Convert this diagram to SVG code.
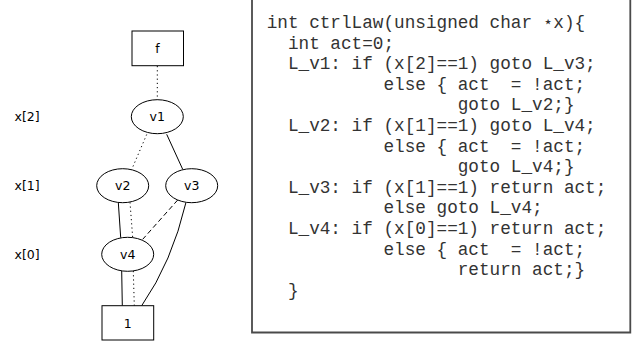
<svg xmlns="http://www.w3.org/2000/svg" width="643" height="344" viewBox="0 0 643 344">
  <style>
    .node { fill: #ffffff; stroke: #000000; stroke-width: 1; }
    .lbl { font-family: "DejaVu Sans", "Liberation Sans", sans-serif; font-size: 12.5px; fill: #000000; }
    .mid { text-anchor: middle; }
    .edge { fill: none; stroke: #000000; stroke-width: 1; }
    .dot { stroke-dasharray: 1.2 3; }
    .dash { stroke-dasharray: 5 3; }
    .code { font-family: "Liberation Mono", "DejaVu Sans Mono", monospace; font-size: 17.7px; fill: #333333; white-space: pre; }
    .frame { fill: none; stroke: #4a4a4a; stroke-width: 1.8; }
  </style>

  <!-- variable levels -->
  <g id="levels">
    <text class="lbl" x="14.5" y="121">x[2]</text>
    <text class="lbl" x="14.5" y="190">x[1]</text>
    <text class="lbl" x="14.5" y="259">x[0]</text>
  </g>

  <!-- connectors -->
  <g id="connectors">
    <line class="edge dot" x1="157.3" y1="66" x2="157.3" y2="100"/>
    <line class="edge dot" x1="146.7" y1="134.5" x2="131.7" y2="169.5"/>
    <line class="edge" x1="166.7" y1="134.3" x2="182.7" y2="169.3"/>
    <line class="edge" x1="118.3" y1="202.3" x2="120.7" y2="237.7"/>
    <line class="edge dot" x1="130" y1="202.3" x2="132.7" y2="237.7"/>
    <line class="edge dash" x1="177.7" y1="200" x2="142.7" y2="239.3"/>
    <path class="edge" d="M186,202.3 Q172,262 141.7,305.7"/>
    <line class="edge" x1="121.7" y1="271" x2="122.3" y2="305.7"/>
    <line class="edge dot" x1="133.3" y1="271" x2="134.3" y2="305.7"/>
  </g>

  <g id="f">
    <rect class="node" x="132" y="31" width="51.5" height="34.7"/>
    <text class="lbl mid" x="157.5" y="52.5">f</text>
  </g>
  <g id="v1">
    <ellipse class="node" cx="157.3" cy="116.7" rx="26" ry="17"/>
    <text class="lbl mid" x="157.3" y="121.2">v1</text>
  </g>
  <g id="v2">
    <ellipse class="node" cx="122.7" cy="185.7" rx="26" ry="17"/>
    <text class="lbl mid" x="122.7" y="190.2">v2</text>
  </g>
  <g id="v3">
    <ellipse class="node" cx="191.7" cy="185.7" rx="26" ry="17"/>
    <text class="lbl mid" x="191.7" y="190.2">v3</text>
  </g>
  <g id="v4">
    <ellipse class="node" cx="127.7" cy="254.3" rx="26" ry="17"/>
    <text class="lbl mid" x="127.7" y="258.8">v4</text>
  </g>
  <g id="one">
    <rect class="node" x="102" y="305.7" width="51.7" height="34.3"/>
    <text class="lbl mid" x="127.8" y="327.5">1</text>
  </g>

  <!-- source listing -->
  <g id="listing">
    <path class="frame" d="M252,-2 V332.5 H630.3 V-2"/>
    <text class="code" x="266.7" y="28">int ctrlLaw(unsigned char <tspan font-family="DejaVu Sans Mono, monospace">⋆</tspan>x){</text>
    <text class="code" x="266.7" y="48.6">  int act=0;</text>
    <text class="code" x="266.7" y="69.2">  L_v1: if (x[2]==1) goto L_v3;</text>
    <text class="code" x="266.7" y="89.8">           else { act  = !act;</text>
    <text class="code" x="266.7" y="110.4">                  goto L_v2;}</text>
    <text class="code" x="266.7" y="131">  L_v2: if (x[1]==1) goto L_v4;</text>
    <text class="code" x="266.7" y="151.6">           else { act  = !act;</text>
    <text class="code" x="266.7" y="172.2">                  goto L_v4;}</text>
    <text class="code" x="266.7" y="192.8">  L_v3: if (x[1]==1) return act;</text>
    <text class="code" x="266.7" y="213.4">           else goto L_v4;</text>
    <text class="code" x="266.7" y="234">  L_v4: if (x[0]==1) return act;</text>
    <text class="code" x="266.7" y="254.6">           else { act  = !act;</text>
    <text class="code" x="266.7" y="275.2">                  return act;}</text>
    <text class="code" x="266.7" y="295.8">  }</text>
  </g>
</svg>
